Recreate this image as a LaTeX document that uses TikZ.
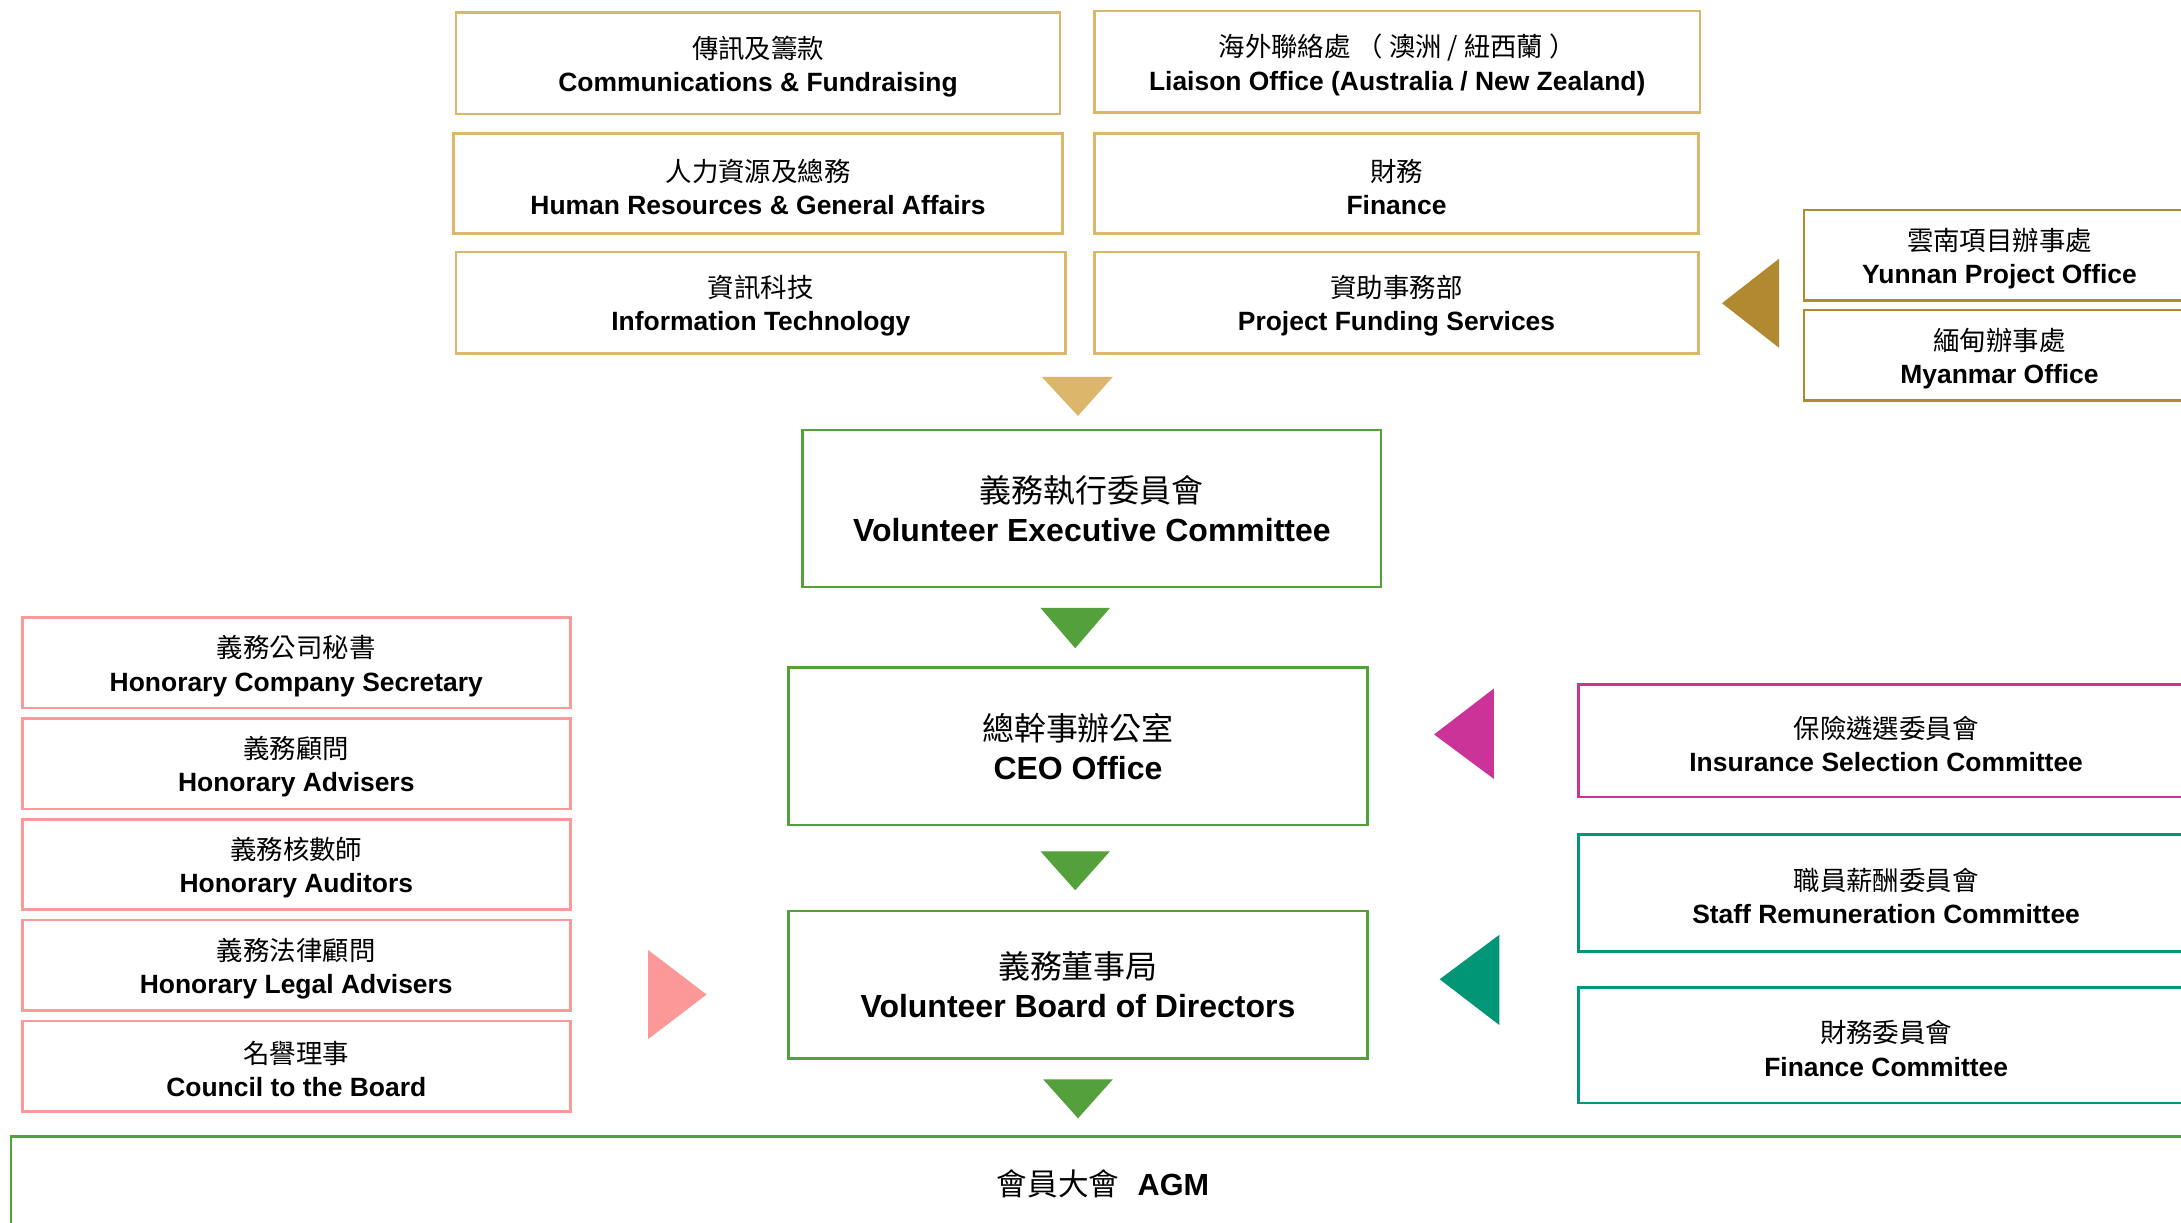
\documentclass[tikz,border=0pt]{standalone}
\usepackage{fontspec}
\setmainfont{Liberation Sans}
\newfontfamily\cjk{Noto Sans CJK TC}
\definecolor{goldL}{RGB}{220,182,106}
\definecolor{goldD}{RGB}{176,137,48}
\definecolor{grn}{RGB}{84,160,58}
\definecolor{pnk}{RGB}{252,152,152}
\definecolor{mag}{RGB}{204,51,153}
\definecolor{teal}{RGB}{0,150,118}
\newcommand\twol[2]{\rule{0pt}{20.5pt}{\cjk #1}\\{\bfseries #2}}
\newcommand\twob[2]{{\cjk #1}\\{\bfseries #2}}
\begin{document}
\begin{tikzpicture}[x=1pt,y=-1pt,
  box/.style={draw,line width=1.8pt,fill=white,align=center,inner sep=0pt,
    font=\fontsize{19}{24}\selectfont},
  bigbox/.style={box,font=\fontsize{23}{28}\selectfont}]
\useasboundingbox (0,0) rectangle (1568,879);
\clip (0,0) rectangle (1568,879);
\fill[white] (0,0) rectangle (1568,879);
% top grid
\node[box,draw=goldL,minimum width=434pt,minimum height=73pt] (comm) at (545,45.5) {\twol{傳訊及籌款}{Communications \& Fundraising}};
\node[box,draw=goldL,minimum width=438pt,minimum height=72pt] (hr) at (545,132) {\twol{人力資源及總務}{Human Resources \& General Affairs}};
\node[box,draw=goldL,minimum width=438pt,minimum height=73pt] (it) at (547,217.5) {\twol{資訊科技}{Information Technology}};
\node[box,draw=goldL,minimum width=435pt,minimum height=73pt] (liaison) at (1004.5,44.5) {\twol{海外聯絡處 （ 澳洲 / 紐西蘭 ）}{Liaison Office (Australia / New Zealand)}};
\node[box,draw=goldL,minimum width=434pt,minimum height=72pt] (fin) at (1004,132) {\twol{財務}{Finance}};
\node[box,draw=goldL,minimum width=434pt,minimum height=73pt] (pfs) at (1004,217.5) {\twol{資助事務部}{Project Funding Services}};
% right gold
\node[box,draw=goldD,minimum width=281pt,minimum height=65pt] (yunnan) at (1437.5,183.5) {\twol{雲南項目辦事處}{Yunnan Project Office}};
\node[box,draw=goldD,minimum width=281pt,minimum height=65pt] (myanmar) at (1437.5,255.5) {\twol{緬甸辦事處}{Myanmar Office}};
% central column
\node[bigbox,draw=grn,minimum width=416pt,minimum height=113pt] (vec) at (785,365.5) {\twob{義務執行委員會}{Volunteer Executive Committee}};
\node[bigbox,draw=grn,minimum width=416pt,minimum height=113pt] (ceo) at (775,536.5) {\twob{總幹事辦公室}{CEO Office}};
\node[bigbox,draw=grn,minimum width=416pt,minimum height=106pt] (vbd) at (775,708) {\twob{義務董事局}{Volunteer Board of Directors}};
\node[bigbox,draw=grn,minimum width=1570pt,minimum height=68pt,font=\fontsize{22}{28}\selectfont] (agm) at (793,851) {{\cjk 會員大會}\hspace{0.6em}{\bfseries AGM}};
% left pink
\node[box,draw=pnk,minimum width=394pt,minimum height=65pt] (sec) at (213,476.5) {\twol{義務公司秘書}{Honorary Company Secretary}};
\node[box,draw=pnk,minimum width=394pt,minimum height=65pt] (adv) at (213,549) {\twol{義務顧問}{Honorary Advisers}};
\node[box,draw=pnk,minimum width=394pt,minimum height=65pt] (aud) at (213,621.5) {\twol{義務核數師}{Honorary Auditors}};
\node[box,draw=pnk,minimum width=394pt,minimum height=65pt] (legal) at (213,694) {\twol{義務法律顧問}{Honorary Legal Advisers}};
\node[box,draw=pnk,minimum width=394pt,minimum height=65pt] (council) at (213,766.5) {\twol{名譽理事}{Council to the Board}};
% right committees
\node[box,draw=mag,minimum width=442pt,minimum height=81pt] (ins) at (1356,532.5) {\twol{保險遴選委員會}{Insurance Selection Committee}};
\node[box,draw=teal,minimum width=442pt,minimum height=84pt] (staff) at (1356,642) {\twol{職員薪酬委員會}{Staff Remuneration Committee}};
\node[box,draw=teal,minimum width=442pt,minimum height=83pt] (fc) at (1356,751.5) {\twol{財務委員會}{Finance Committee}};
% triangles
\fill[goldL] (749,271) -- (800,271) -- (775,299) -- cycle;
\fill[grn] (748,437) -- (798,437) -- (773,466) -- cycle;
\fill[grn] (748,612) -- (798,612) -- (773,640) -- cycle;
\fill[grn] (750,776) -- (800,776) -- (775,804) -- cycle;
\fill[goldD] (1279,186) -- (1279,250) -- (1238,218) -- cycle;
\fill[pnk] (466,683) -- (466,747) -- (508,715) -- cycle;
\fill[mag] (1074,495) -- (1074,560) -- (1031,528) -- cycle;
\fill[teal] (1078,672) -- (1078,737) -- (1035,704) -- cycle;
\end{tikzpicture}
\end{document}
